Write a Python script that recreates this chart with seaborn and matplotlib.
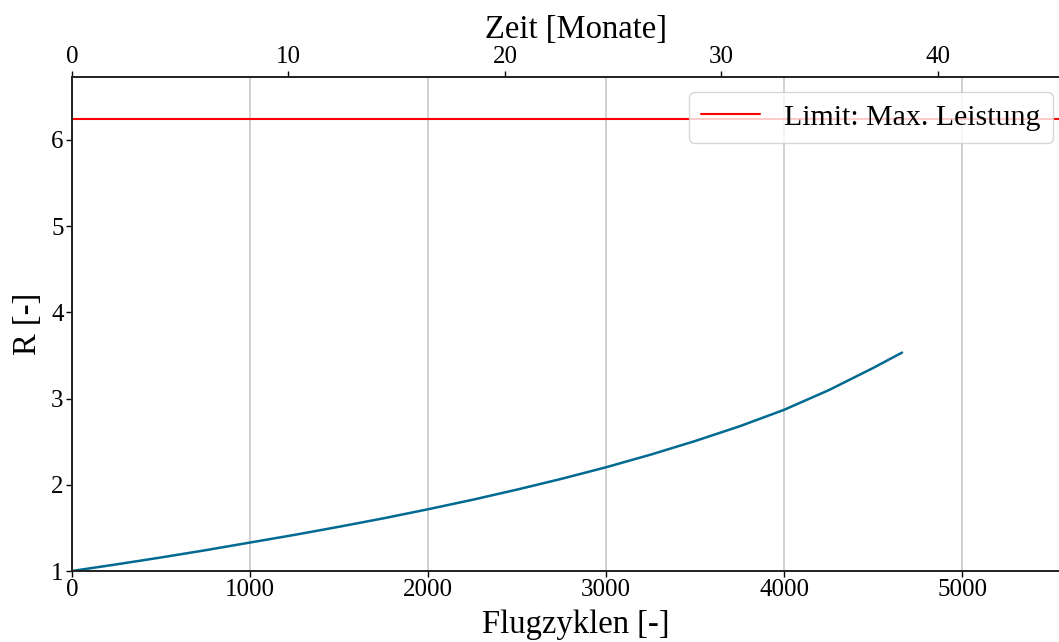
import numpy as np
import pandas as pd
import matplotlib
matplotlib.use("Agg")
import matplotlib.pyplot as plt
import seaborn as sns

# Data
cycles = [0, 250, 500, 750, 1000, 1250, 1500, 1750, 2000, 2250, 2500, 2750,
          3000, 3250, 3500, 3750, 4000, 4250, 4500, 4663]
r_values = [1.000, 1.077, 1.157, 1.241, 1.330, 1.419, 1.513, 1.611, 1.716,
            1.826, 1.944, 2.069, 2.203, 2.349, 2.507, 2.678, 2.869, 3.096,
            3.354, 3.533]
limit_value = 6.24
limit_label = "Limit: Max. Leistung"
bottom_ticks = [0, 1000, 2000, 3000, 4000, 5000]
top_ticks = [0, 10, 20, 30, 40]
y_ticks = [1, 2, 3, 4, 5, 6]
cycles_per_month = 121.6

sns.set_theme(style="white")
plt.rcParams['font.family'] = ['Liberation Serif', 'DejaVu Serif']
plt.rcParams['text.color'] = 'black'
plt.rcParams['axes.labelcolor'] = 'black'
plt.rcParams['xtick.color'] = 'black'
plt.rcParams['ytick.color'] = 'black'

fig = plt.figure(figsize=(10.59, 6.42), dpi=100)
ax = fig.add_axes([72 / 1059, 71 / 642, 1008 / 1059, 494.3 / 642])

df = pd.DataFrame({"Flugzyklen": cycles, "R": r_values})
sns.lineplot(data=df, x="Flugzyklen", y="R", ax=ax, color="#006a90", linewidth=1.8)
ax.axhline(limit_value, color="red", linewidth=1.5, label=limit_label)

xmax = 1008 / 0.178
ax.set_xlim(0, xmax)
ax.set_ylim(1, 6.733)
ax.set_xticks(bottom_ticks)
ax.set_yticks(y_ticks)
ax.grid(axis="x", color="#c8c8c8", linewidth=1.2)
ax.grid(axis="y", visible=False)
ax.set_xlabel("Flugzyklen [-]", fontsize=23.5, labelpad=6, color="black")
ax.set_ylabel("R [-]", fontsize=23.5, labelpad=6, color="black")
ax.tick_params(axis="both", labelsize=18, length=4, width=1, direction="out",
               bottom=True, left=True, colors="black", pad=2)
for s in ax.spines.values():
    s.set_color("black")
    s.set_linewidth(1.2)

ax2 = ax.twiny()
ax2.set_xlim(0, xmax / cycles_per_month)
ax2.set_xticks(top_ticks)
ax2.set_xlabel("Zeit [Monate]", fontsize=23.5, labelpad=6, color="black")
ax2.tick_params(axis="x", labelsize=18, length=4, width=1, top=True,
                direction="out", pad=2, colors="black")
ax2.grid(False)

leg = ax.legend(loc="upper right", fontsize=21.5, frameon=True, fancybox=True,
                bbox_to_anchor=(0.973, 0.969), borderaxespad=0,
                handlelength=2.0, borderpad=0.4)
leg.get_frame().set_edgecolor("#cccccc")
for t in leg.get_texts():
    t.set_color("black")

fig.savefig("out.png", dpi=100)
